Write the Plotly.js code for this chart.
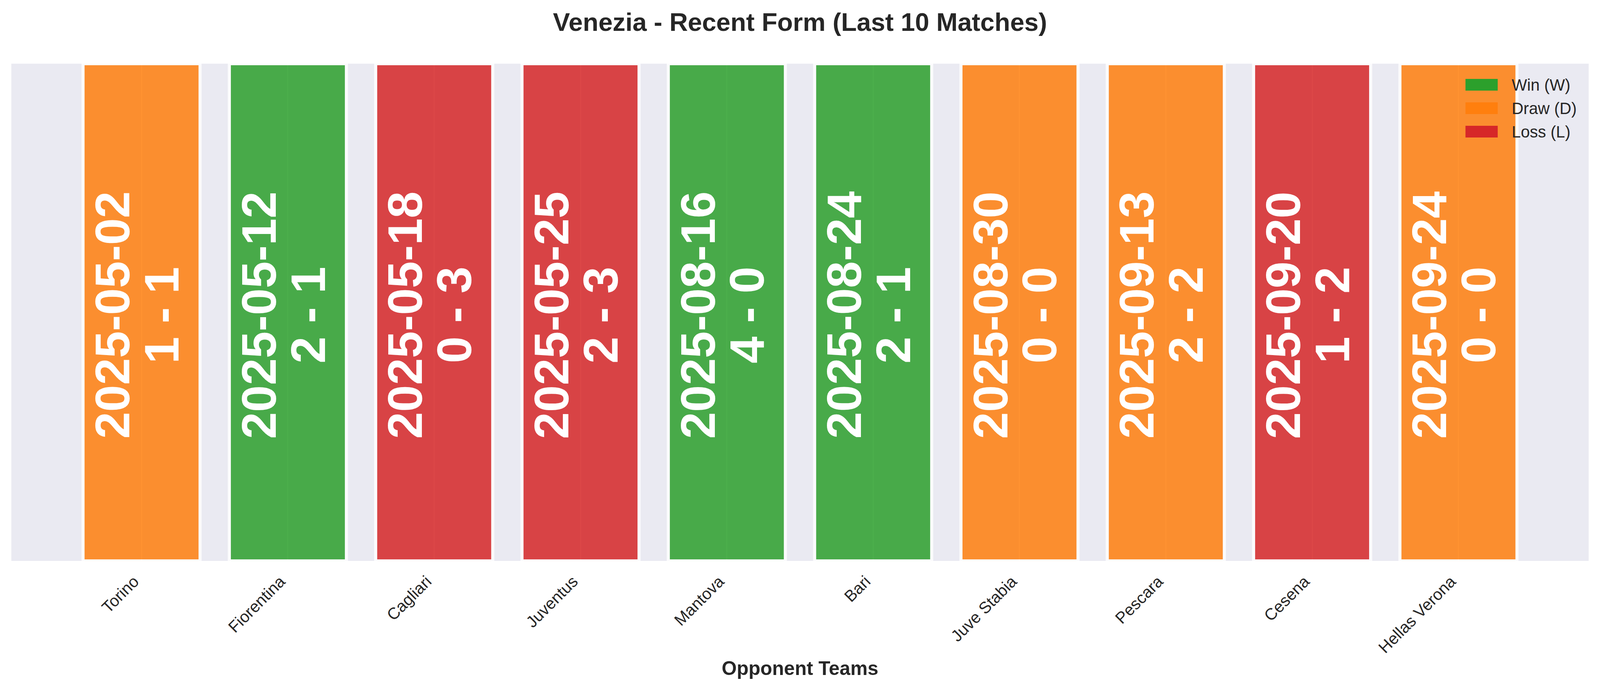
<!DOCTYPE html>
<html>
<head>
<meta charset="utf-8">
<script src="https://cdn.plot.ly/plotly-3.0.1.min.js"></script>
<style>html,body{margin:0;padding:0;background:#fff;overflow:hidden;}</style>
</head>
<body>
<div id="chart"></div>
<script>
// ---- data ----
var teams = ['Torino', 'Fiorentina', 'Cagliari', 'Juventus', 'Mantova', 'Bari', 'Juve Stabia', 'Pescara', 'Cesena', 'Hellas Verona'];
var matchDates = ['2025-05-02', '2025-05-12', '2025-05-18', '2025-05-25', '2025-08-16', '2025-08-24', '2025-08-30', '2025-09-13', '2025-09-20', '2025-09-24'];
var scores = ['1 - 1', '2 - 1', '0 - 3', '2 - 3', '4 - 0', '2 - 1', '0 - 0', '2 - 2', '1 - 2', '0 - 0'];
var results = ['D', 'W', 'L', 'L', 'W', 'W', 'D', 'D', 'L', 'D'];
var barValues = [1, 1, 1, 1, 1, 1, 1, 1, 1, 1];
var resultCodes = ['W', 'D', 'L'];
var resultLabels = ['Win (W)', 'Draw (D)', 'Loss (L)'];
var resultColors = ['#2ca02c', '#ff7f0e', '#d62728'];

// ---- layout constants (reference px, scaled to the actual window) ----
var REF_W = 4170, REF_H = 1769;
var SX = window.innerWidth / REF_W, SY = window.innerHeight / REF_H;
if (!isFinite(SX) || SX <= 0) SX = 1;
if (!isFinite(SY) || SY <= 0) SY = 1;
var SF = Math.sqrt(SX * SY);
function sx(v) { return v * SX; }
function sy(v) { return v * SY; }
function sf(v) { return v * SF; }
var W = sx(REF_W), H = sy(REF_H);
var ML = sx(30), MR = sx(30), MT = sy(163), MB = sy(333);
var PW = W - ML - MR, PH = H - MT - MB;
var FONT = 'Liberation Sans, Arial, Helvetica, sans-serif';
var TXT = '#262626';

function colorFor(r) { return resultColors[resultCodes.indexOf(r)]; }

var barTrace = {
  type: 'bar',
  x: teams,
  y: barValues,
  width: 0.8,
  marker: {
    color: results.map(colorFor),
    opacity: 0.85,
    line: { color: '#ffffff', width: sx(8) }
  },
  showlegend: false,
  hoverinfo: 'x'
};

var annotations = [];
for (var i = 0; i < teams.length; i++) {
  annotations.push({
    x: teams[i], y: 0.5, xref: 'x', yref: 'y',
    text: matchDates[i], showarrow: false, textangle: -90,
    xshift: sx(-76), yshift: sy(-7),
    font: { family: FONT, size: sf(125), color: '#ffffff', weight: 'bold' }
  });
  annotations.push({
    x: teams[i], y: 0.5, xref: 'x', yref: 'y',
    text: scores[i], showarrow: false, textangle: -90,
    xshift: sx(52), yshift: sy(-7),
    font: { family: FONT, size: sf(125), color: '#ffffff', weight: 'bold' }
  });
}

// custom legend (matplotlib-style wide patches)
var shapes = [];
var legSwLeft = sx(3819), legSwRight = sx(3903), legTextLeft = sx(3937);
var legTop = sy(217), legStep = sy(60), legSwH = sy(30);
function px2x(px) { return (px - ML) / PW; }
function py2y(py) { return (H - MB - py) / PH; }
for (var k = 0; k < resultLabels.length; k++) {
  var cy = legTop + k * legStep;
  shapes.push({
    type: 'rect', xref: 'paper', yref: 'paper', layer: 'above',
    x0: px2x(legSwLeft), x1: px2x(legSwRight),
    y0: py2y(cy + legSwH / 2), y1: py2y(cy - legSwH / 2),
    fillcolor: resultColors[k], line: { width: 0 }
  });
  annotations.push({
    xref: 'paper', yref: 'paper', x: px2x(legTextLeft), y: py2y(cy),
    xanchor: 'left', yanchor: 'middle', showarrow: false,
    text: resultLabels[k],
    font: { family: FONT, size: sf(42), color: TXT }
  });
}

var layout = {
  width: W, height: H,
  margin: { l: ML, r: MR, t: MT, b: MB, pad: 0 },
  paper_bgcolor: '#ffffff',
  plot_bgcolor: '#eaeaf2',
  font: { family: FONT, color: TXT },
  title: {
    text: '<b>Venezia - Recent Form (Last 10 Matches)</b>',
    font: { family: FONT, size: sf(66), color: TXT },
    x: 0.5, xref: 'paper', xanchor: 'center',
    y: 1 - 56 / REF_H, yref: 'container', yanchor: 'middle'
  },
  xaxis: {
    type: 'category',
    range: [-0.89, 9.89],
    showgrid: true, gridcolor: '#ffffff', gridwidth: sx(3),
    zeroline: false, showline: false,
    ticks: '',
    tickangle: -45,
    ticklabelshift: Math.round(sx(-19)),
    ticklabelstandoff: Math.round(sy(19)),
    tickfont: { family: FONT, size: sf(42), color: TXT },
    title: {
      text: '<b>Opponent Teams</b>',
      font: { family: FONT, size: sf(50), color: TXT },
      standoff: Math.round(sy(13))
    }
  },
  yaxis: {
    range: [0, 1],
    showticklabels: false, showgrid: false, zeroline: false, showline: false,
    ticks: ''
  },
  shapes: shapes,
  annotations: annotations,
  showlegend: false,
  bargap: 0.2
};

Plotly.newPlot('chart', [barTrace], layout, { displayModeBar: false, staticPlot: true });
</script>
</body>
</html>
